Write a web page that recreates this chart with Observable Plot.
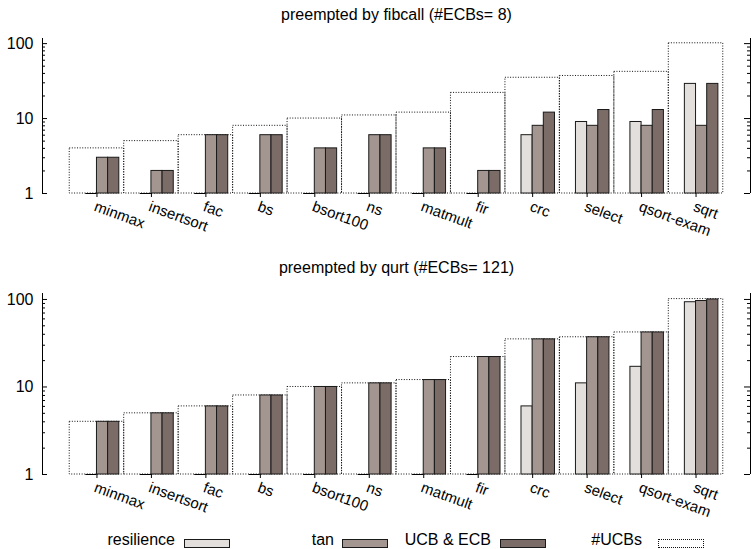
<!DOCTYPE html>
<html><head><meta charset="utf-8">
<script src="https://cdn.jsdelivr.net/npm/d3@7"></script>
<script src="https://cdn.jsdelivr.net/npm/@observablehq/plot@0.6"></script>
<style>
body{margin:0;background:#fff;}
#chart{position:relative;width:751px;height:549px;font-family:"Liberation Sans",Arial,Helvetica,sans-serif;color:#000;}
#top{position:absolute;left:0;top:0;}
#bottom{position:absolute;left:0;top:250px;}
.lt{position:absolute;font-size:16px;line-height:14px;white-space:nowrap;text-align:right;}
.ls{position:absolute;box-sizing:border-box;}
</style></head><body>
<div id="chart"><div id="top"></div><div id="bottom"></div><div id="legend"></div></div>
<script>
const benchmarks = ["minmax","insertsort","fac","bs","bsort100","ns","matmult","fir","crc","select","qsort-exam","sqrt"];
const ucbs = [4,5,6,8,10,11,12,22,35,37,42,101];
const fibResilience = [1,1,1,1,1,1,1,1,6,9,9,29];
const fibTan = [3,2,6,6,4,6,4,2,8,8,8,8];
const fibUcbEcb = [3,2,6,6,4,6,4,2,12,13,13,29];
const qurtResilience = [1,1,1,1,1,1,1,1,6,11,17,93];
const qurtTan = [4,5,6,8,10,11,12,22,35,37,42,96];
const qurtUcbEcb = [4,5,6,8,10,11,12,22,35,37,42,100];
const yTicks = [1,10,100];
const yMinorTicks = [2,3,4,5,6,7,8,9,20,30,40,50,60,70,80,90];
const seriesNames = ["resilience","tan","UCB & ECB","#UCBs"];
const seriesColors = ["#e3dfdc","#a39590","#7b6c68","none"];
const titles = ["preempted by fibcall (#ECBs= 8)","preempted by qurt (#ECBs= 121)"];

const FONT = '"Liberation Sans", Arial, Helvetica, sans-serif';
const xDomain = [-1, 12];
const yDomain = [1, 117];
const W = 0.205;
const ML = 42, MR = 1, WIDTH = 751;
const frameW = WIDTH - ML - MR;

function panel({title, resilience, tan, ucbecb, height, marginTop, marginBottom, titleDy}) {
  const rows = benchmarks.map((name, i) => ({i, name, ucbs: ucbs[i], resilience: resilience[i], tan: tan[i], ucbecb: ucbecb[i]}));
  const idx = rows.map(d => d.i);
  const bar = (key, off, color) => Plot.rect(rows.filter(d => d[key] > yDomain[0]), {
    x1: d => d.i + off, x2: d => d.i + off + W, y1: yDomain[0], y2: key,
    fill: color, stroke: "#1a1a1a", strokeWidth: 1
  });
  const flat = (key, off) => Plot.ruleY(rows.filter(d => d[key] <= yDomain[0]), {
    y: key, x1: d => d.i + off, x2: d => d.i + off + W, stroke: "#000", strokeWidth: 1
  });
  return Plot.plot({
    width: WIDTH, height, marginLeft: ML, marginRight: MR, marginTop, marginBottom,
    style: {fontFamily: FONT, fontSize: "16px", background: "transparent", color: "#000", overflow: "visible"},
    x: {type: "linear", domain: xDomain},
    y: {type: "log", domain: yDomain},
    marks: [
      Plot.rect(rows, {x1: d => d.i - 0.5, x2: d => d.i + 0.5, y1: yDomain[0], y2: "ucbs", fill: "none", stroke: "#111", strokeWidth: 1, strokeDasharray: "1,1.6"}),
      bar("resilience", -W, seriesColors[0]),
      bar("tan", 0, seriesColors[1]),
      bar("ucbecb", W, seriesColors[2]),
      flat("resilience", -W),
      flat("tan", 0),
      flat("ucbecb", W),
      Plot.ruleX([xDomain[0]], {stroke: "#000", strokeWidth: 1}),
      Plot.ruleX([xDomain[1]], {stroke: "#000", strokeWidth: 1}),
      Plot.ruleY(yTicks, {y: d => d, insetRight: frameW - 5, stroke: "#000"}),
      Plot.ruleY(yMinorTicks, {y: d => d, insetRight: frameW - 3, stroke: "#000"}),
      Plot.ruleY(yTicks, {y: d => d, insetLeft: frameW - 6, stroke: "#000"}),
      Plot.ruleY(yMinorTicks, {y: d => d, insetLeft: frameW - 3, stroke: "#000"}),
      Plot.axisY({ticks: yTicks, tickSize: 0, tickPadding: 9, tickFormat: d => String(d), label: null, fontSize: 16}),
      Plot.axisX({ticks: idx, tickSize: 4, tickFormat: () => "", label: null}),
      Plot.text(rows, {x: "i", text: "name", frameAnchor: "bottom", rotate: 20, textAnchor: "start", lineAnchor: "top", dy: 7, fontSize: 15}),
      Plot.text([title], {frameAnchor: "top", lineAnchor: "bottom", dy: titleDy, fontSize: 16})
    ]
  });
}

document.getElementById("top").append(panel({
  title: titles[0], resilience: fibResilience, tan: fibTan, ucbecb: fibUcbEcb,
  height: 250, marginTop: 38, marginBottom: 57, titleDy: -19
}));
document.getElementById("bottom").append(panel({
  title: titles[1], resilience: qurtResilience, tan: qurtTan, ucbecb: qurtUcbEcb,
  height: 270, marginTop: 43, marginBottom: 46, titleDy: -21
}));

const legend = document.getElementById("legend");
const textGaps = [9, 8, 9, 16];
seriesNames.forEach((name, k) => {
  const sx = 184 + 158 * k;
  const t = document.createElement("div");
  t.className = "lt";
  t.textContent = name;
  t.style.right = (WIDTH - (sx - textGaps[k])) + "px";
  t.style.top = "533px";
  legend.append(t);
  const s = document.createElement("div");
  s.className = "ls";
  s.style.left = sx + "px";
  s.style.top = "539px";
  s.style.width = "46px";
  s.style.height = "9px";
  if (seriesColors[k] === "none") {
    s.style.border = "1px dotted #111";
  } else {
    s.style.border = "1px solid #1a1a1a";
    s.style.background = seriesColors[k];
  }
  legend.append(s);
});
</script>
</body></html>
